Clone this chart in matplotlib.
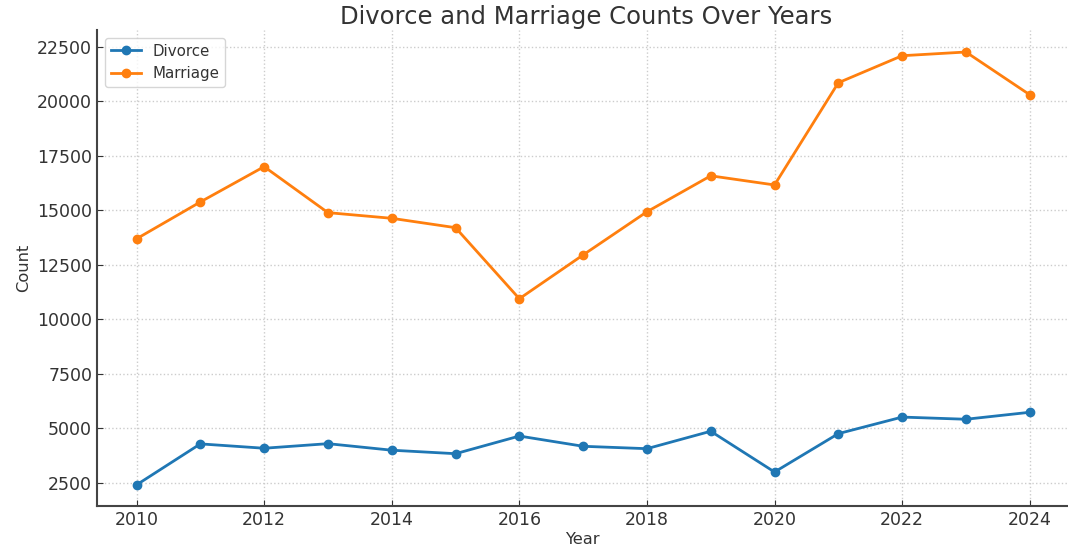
import matplotlib
matplotlib.use("Agg")
import matplotlib.pyplot as plt

plt.rcParams['font.family'] = ['DejaVu Sans']

years = list(range(2010, 2025))
divorce = [2400, 4280, 4080, 4290, 3990, 3830, 4640, 4170, 4060, 4860, 2990, 4750, 5510, 5410, 5730]
marriage = [13690, 15380, 17000, 14890, 14630, 14200, 10940, 12950, 14930, 16580, 16160, 20850, 22090, 22260, 20300]

fig = plt.figure(figsize=(10.68, 5.48), dpi=100)
ax = fig.add_axes([97/1068, 1 - 506/548, (1068-97)/1068, (506-30)/548])

ax.plot(years, divorce, marker='o', color='#1f77b4', linewidth=2, markersize=6, label='Divorce')
ax.plot(years, marriage, marker='o', color='#ff7f0e', linewidth=2, markersize=6, label='Marriage')

ax.set_xlim(2009.38, 2024.6)
ax.set_ylim(1430, 23270)
ax.set_title('Divorce and Marriage Counts Over Years', fontsize=17.5, color='#333333', pad=4, x=(586-97)/(1068-97))
ax.set_xlabel('Year', fontsize=11.7, color='#333333', labelpad=2)
ax.set_ylabel('Count', fontsize=11.7, color='#333333')
ax.set_xticks(range(2010, 2025, 2))
ax.set_yticks(range(2500, 22501, 2500))
ax.tick_params(labelsize=12.5, colors='#333333', direction='in', length=4)
ax.grid(True, linestyle=':', color='#cccccc', linewidth=1)
ax.spines['top'].set_visible(False)
ax.spines['right'].set_visible(False)
ax.spines['left'].set_color('#444444')
ax.spines['bottom'].set_color('#444444')
ax.spines['left'].set_linewidth(1.5)
ax.spines['bottom'].set_linewidth(1.5)
ax.legend(loc='upper left', fontsize=10.8, frameon=True, borderaxespad=0.5, labelcolor='#333333')

fig.savefig('out.png', dpi=100)
